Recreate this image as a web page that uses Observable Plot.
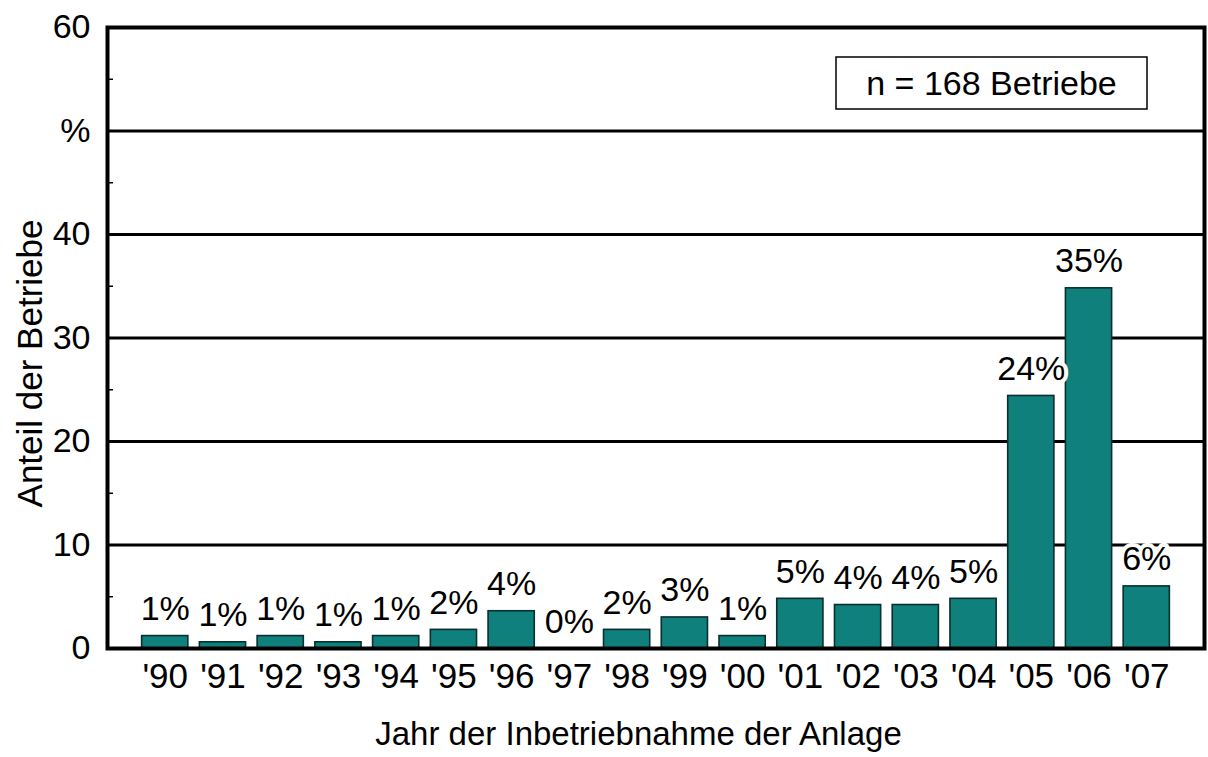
<!DOCTYPE html>
<html>
<head>
<meta charset="utf-8">
<script src="https://cdn.jsdelivr.net/npm/d3@7"></script>
<script src="https://cdn.jsdelivr.net/npm/@observablehq/plot@0.6"></script>
<style>
  html, body { margin: 0; padding: 0; background: #fff; }
  #chart svg { display: block; }
</style>
</head>
<body>
<div id="chart"></div>
<script>
// ---- data ----
const years = ["'90", "'91", "'92", "'93", "'94", "'95", "'96", "'97", "'98", "'99", "'00", "'01", "'02", "'03", "'04", "'05", "'06", "'07"];
const values = [1.2, 0.6, 1.2, 0.6, 1.2, 1.8, 3.6, 0, 1.8, 3.0, 1.2, 4.8, 4.2, 4.2, 4.8, 24.4, 34.8, 6.0];
const valueLabels = ["1%", "1%", "1%", "1%", "1%", "2%", "4%", "0%", "2%", "3%", "1%", "5%", "4%", "4%", "5%", "24%", "35%", "6%"];
const yTicks = [0, 10, 20, 30, 40, 50, 60];
const yTickLabels = ["0", "10", "20", "30", "40", "%", "60"];
const yGrid = [10, 20, 30, 40, 50];
const yMinorTicks = [5, 15, 25, 35, 45, 55];
const noteText = "n = 168 Betriebe";
const xTitle = "Jahr der Inbetriebnahme der Anlage";
const yTitle = "Anteil der Betriebe";

const data = years.map((year, i) => ({ year, value: values[i], label: valueLabels[i] }));

const FONT = "'Liberation Sans', Arial, Helvetica, sans-serif";
const ns = "http://www.w3.org/2000/svg";

function svgText(str, attrs) {
  const t = document.createElementNS(ns, "text");
  for (const [k, v] of Object.entries(attrs)) t.setAttribute(k, v);
  t.textContent = str;
  return t;
}

// note box (annotation in the top right of the frame)
function noteBox(index, scales, values, dim) {
  const g = document.createElementNS(ns, "g");
  const right = dim.width - dim.marginRight - 57;
  const top = dim.marginTop + 30;
  const w = 311, h = 52;
  const rect = document.createElementNS(ns, "rect");
  rect.setAttribute("x", right - w);
  rect.setAttribute("y", top);
  rect.setAttribute("width", w);
  rect.setAttribute("height", h);
  rect.setAttribute("fill", "white");
  rect.setAttribute("stroke", "black");
  rect.setAttribute("stroke-width", 1.5);
  g.appendChild(rect);
  g.appendChild(svgText(noteText, {
    x: right - w / 2, y: top + h / 2, dy: "0.35em",
    "text-anchor": "middle", "font-size": 34, fill: "black"
  }));
  return g;
}

// axis titles
function titles(index, scales, values, dim) {
  const g = document.createElementNS(ns, "g");
  const frameBottom = dim.height - dim.marginBottom;
  const cx = (dim.marginLeft + dim.width - dim.marginRight) / 2;
  const cy = (dim.marginTop + frameBottom) / 2;
  g.appendChild(svgText(xTitle, {
    x: cx - 17, y: frameBottom + 97, "text-anchor": "middle", "font-size": 33, fill: "black"
  }));
  g.appendChild(svgText(yTitle, {
    transform: `translate(${dim.marginLeft - 65},${cy + 26}) rotate(-90)`,
    "text-anchor": "middle", "font-size": 35, fill: "black"
  }));
  return g;
}

const chart = Plot.plot({
  width: 1208,
  height: 757,
  marginLeft: 107,
  marginRight: 4,
  marginTop: 27,
  marginBottom: 109,
  style: { fontFamily: FONT, fontSize: "34px", background: "white", color: "black", overflow: "visible" },
  x: { domain: years, paddingInner: 0.2, paddingOuter: 0.6, round: false, label: null },
  y: { domain: [0, 60], label: null },
  marks: [
    Plot.ruleY(yGrid, { stroke: "black", strokeWidth: 3 }),
    Plot.barY(data, { x: "year", y: "value", fill: "#0f807c", stroke: "#0a2f2f", strokeWidth: 1.6 }),
    Plot.text(data, {
      x: "year", y: "value", text: "label", dy: -16, lineAnchor: "bottom",
      fontSize: 34, fill: "black", stroke: "white", strokeWidth: 8, paintOrder: "stroke", strokeLinejoin: "round"
    }),
    Plot.axisX({ anchor: "bottom", tickSize: 0, tickPadding: 15, fontSize: 35, label: null }),
    Plot.axisY(yTicks, {
      anchor: "left", tickSize: 0, tickPadding: 17, fontSize: 34, label: null,
      tickFormat: d => yTickLabels[yTicks.indexOf(d)]
    }),
    Plot.axisY(yMinorTicks, { anchor: "left", tickSize: -6, text: null, label: null, strokeWidth: 1.5 }),
    Plot.frame({ stroke: "black", strokeWidth: 4 }),
    titles,
    noteBox
  ]
});

document.getElementById("chart").appendChild(chart);
</script>
</body>
</html>
